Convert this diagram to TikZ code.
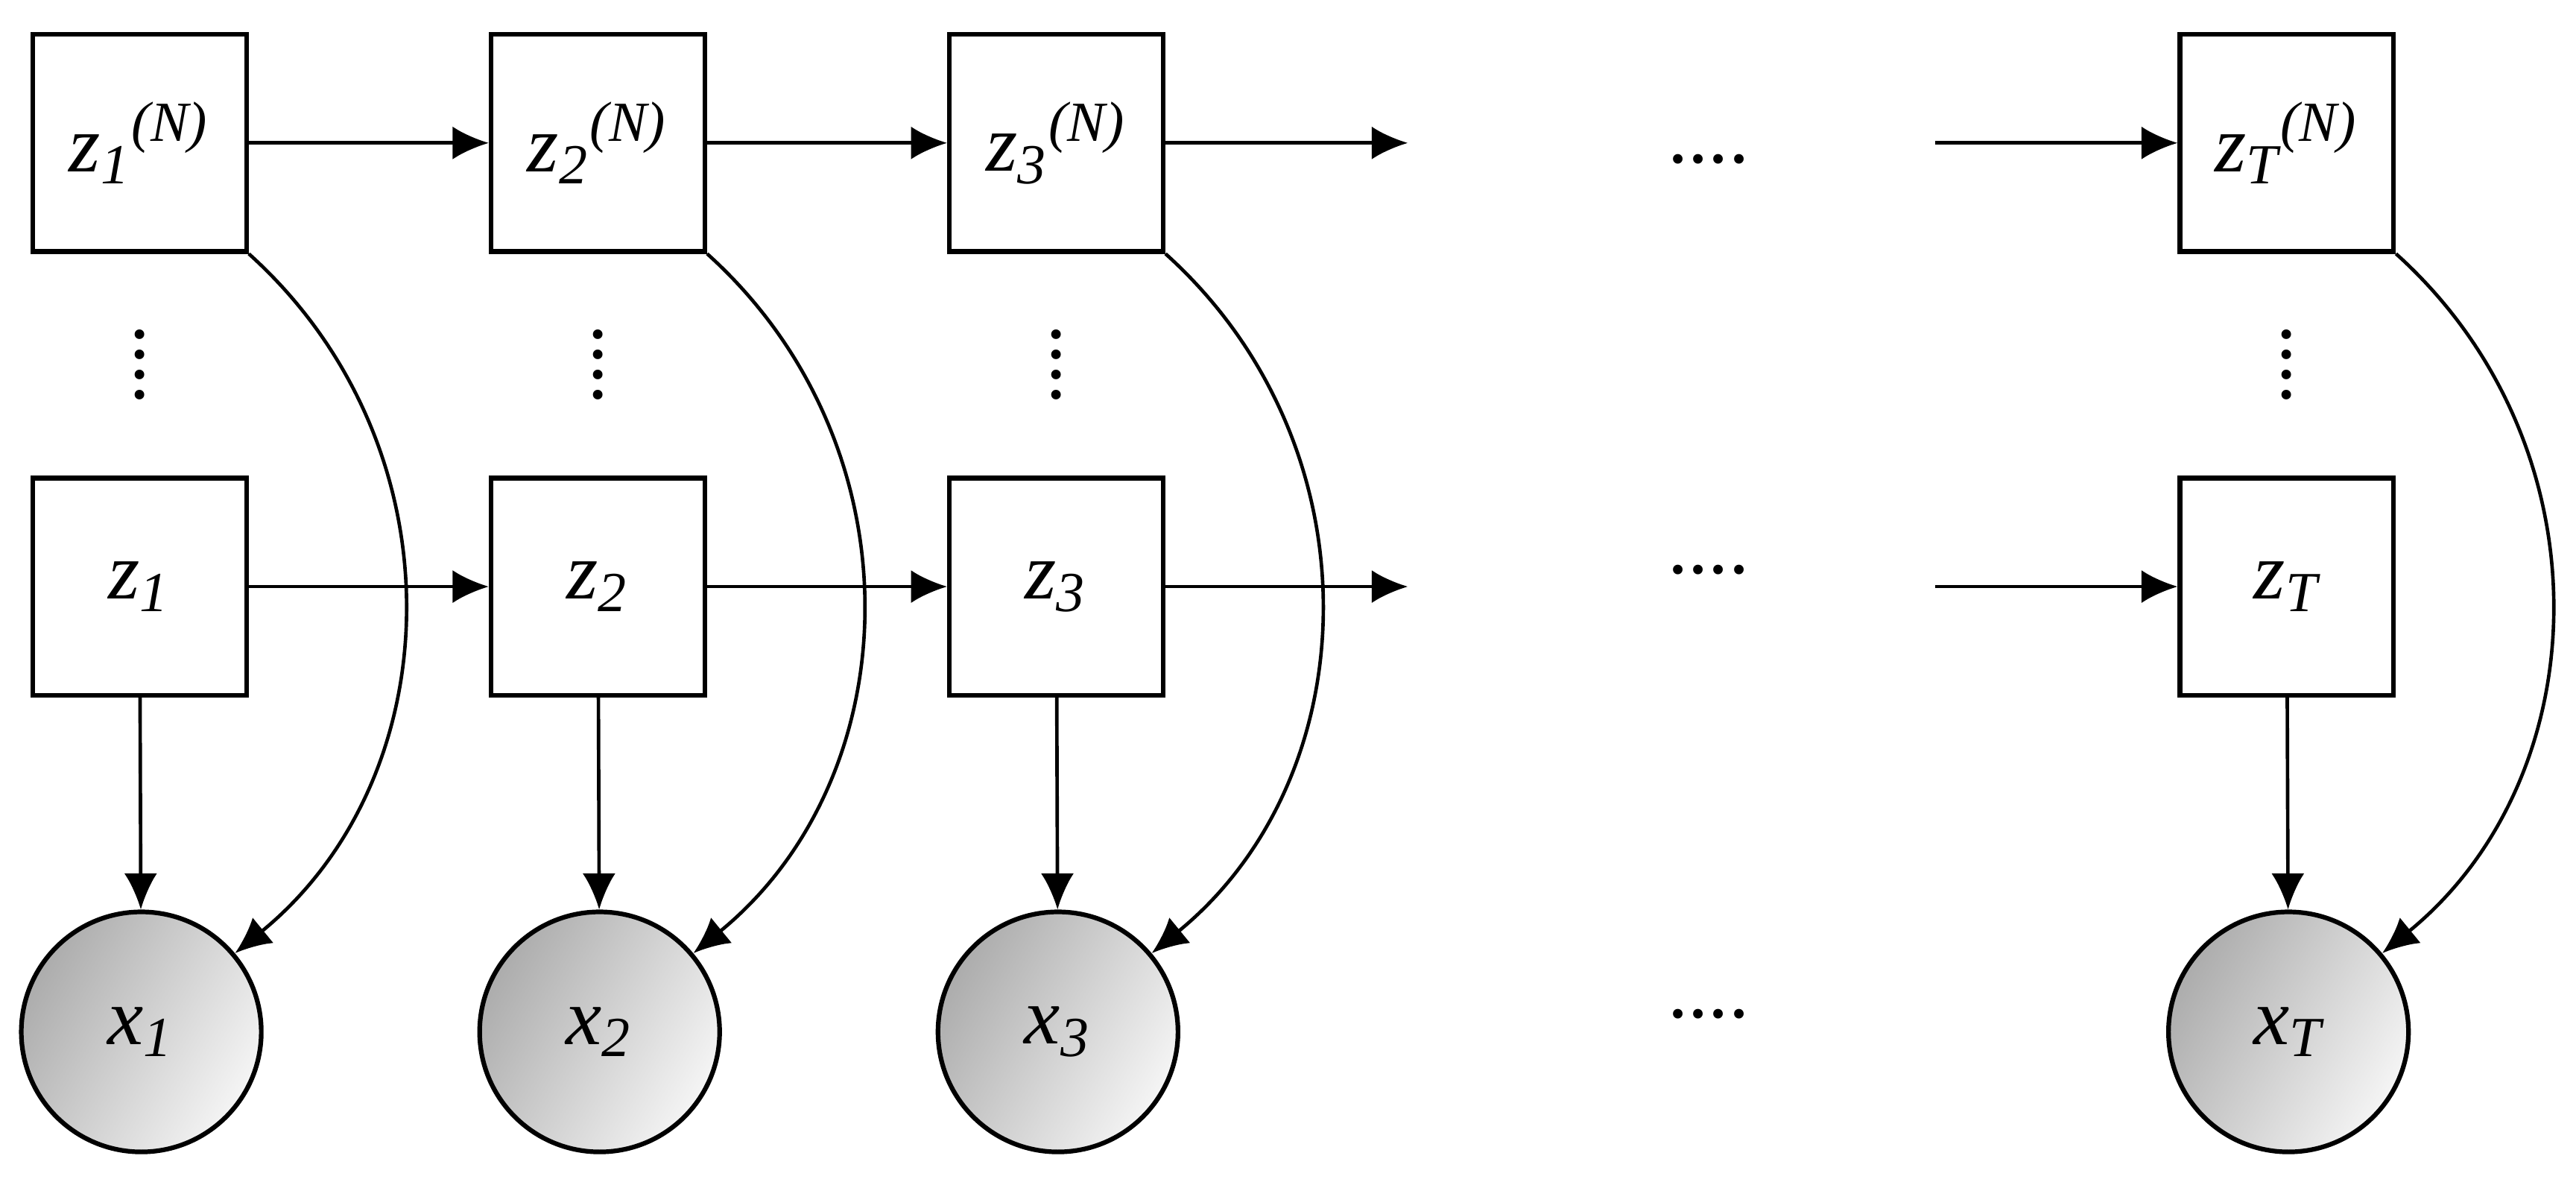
\documentclass[tikz,border=0pt]{standalone}
\usepackage{fontspec}
\setmainfont{Liberation Serif}
\usetikzlibrary{arrows.meta}
\begin{document}
\begin{tikzpicture}[x=0.01cm,y=-0.01cm,
 box/.style={draw,line width=0.8pt,minimum width=1.3cm,minimum height=1.32cm,inner sep=0pt,font=\fontsize{14}{16}\selectfont\itshape},
 obs/.style={draw,line width=0.8pt,circle,minimum size=1.46cm,inner sep=0pt,left color=gray!65,right color=gray!8,shading angle=60,font=\fontsize{14}{16}\selectfont\itshape},
 arr/.style={-{Latex[length=2.2mm,width=2mm]},line width=0.6pt},
 dt/.style={font=\fontsize{14}{16}\selectfont}]
\useasboundingbox (0,0) rectangle (1568,721);
\foreach \i/\x/\s in {1/85/1,2/364/2,3/643/3,T/1392/T}{
 \node[box] (t\i) at (\x,87) {z\textsubscript{\s}\textsuperscript{(N)}};
 \node[box] (b\i) at (\x,357) {z\textsubscript{\s}};
 \node[obs] (x\i) at (\x+1,628) {x\textsubscript{\s}};
 \node[dt] (v\i) at (\x,222) {\rotatebox{90}{....}};
 \draw[arr] (b\i) -- (x\i);
 \draw[arr] (t\i.south east) .. controls +(130,117) and +(132,-108) .. (x\i.40);
}
\node[dt] (h1) at (1040,97) {....};
\node[dt] (h2) at (1040,347) {....};
\node[dt] (h3) at (1040,617) {....};
\coordinate (e1) at (857,87); \coordinate (e2) at (857,357);
\coordinate (s1) at (1178,87); \coordinate (s2) at (1178,357);
\draw[arr] (t1) -- (t2); \draw[arr] (t2) -- (t3); \draw[arr] (t3) -- (e1); \draw[arr] (s1) -- (tT);
\draw[arr] (b1) -- (b2); \draw[arr] (b2) -- (b3); \draw[arr] (b3) -- (e2); \draw[arr] (s2) -- (bT);
\end{tikzpicture}
\end{document}
